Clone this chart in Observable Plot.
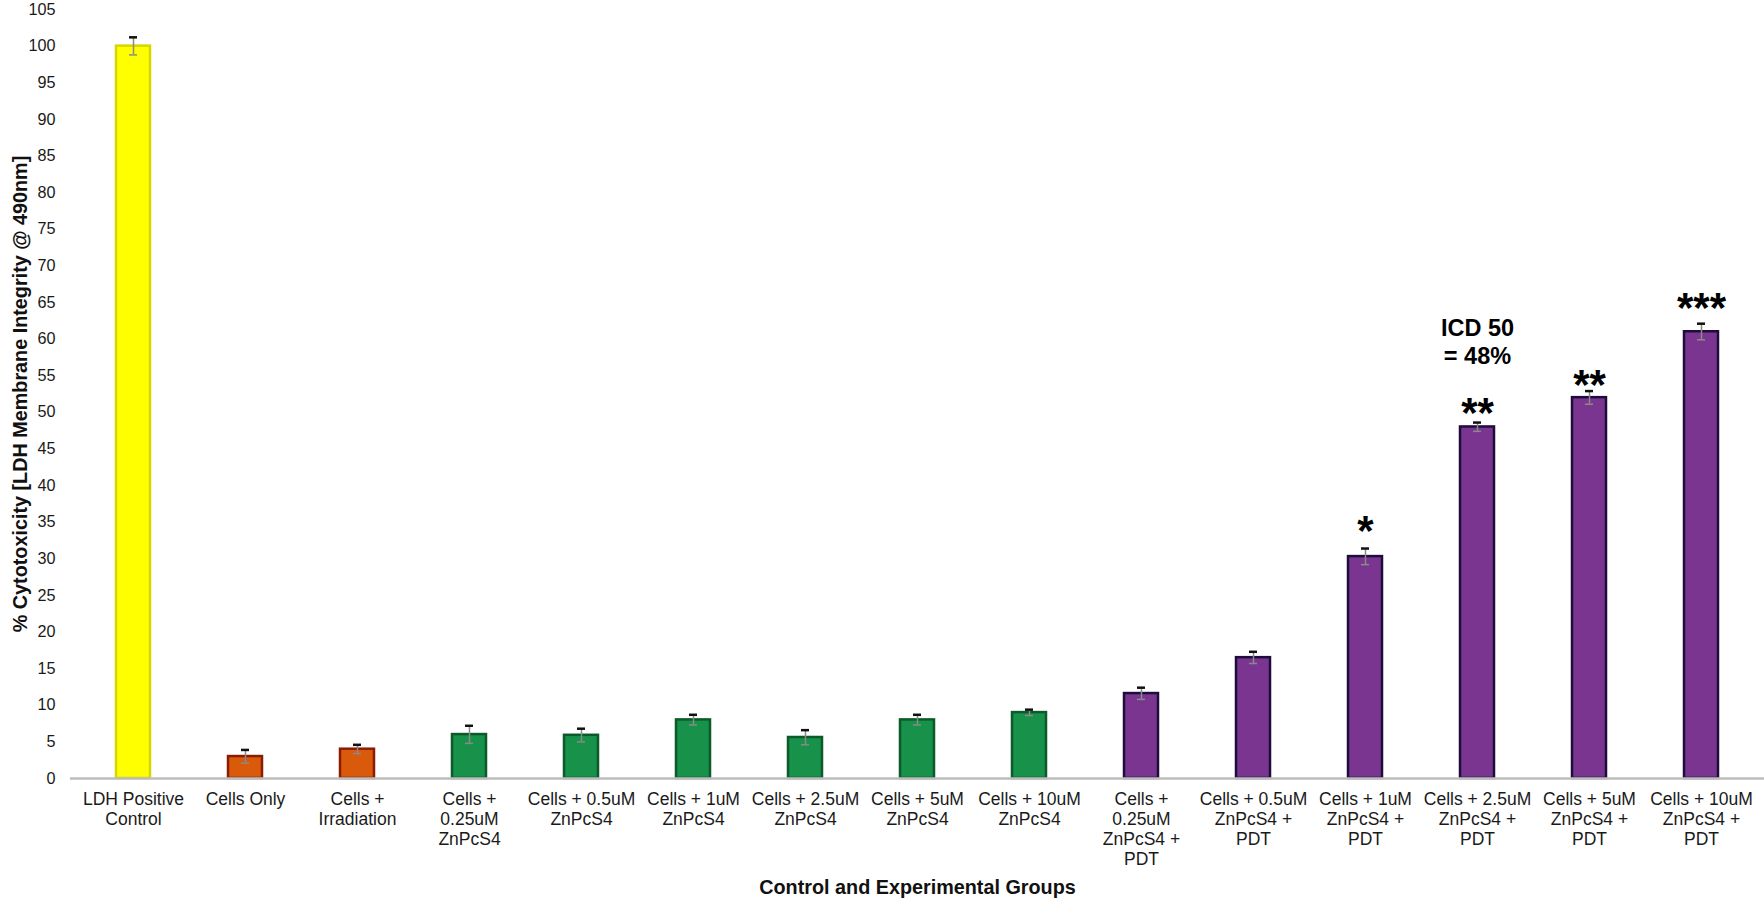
<!DOCTYPE html>
<html>
<head>
<meta charset="utf-8">
<script src="https://cdn.jsdelivr.net/npm/d3@7"></script>
<script src="https://cdn.jsdelivr.net/npm/@observablehq/plot@0.6"></script>
<style>
  html, body { margin: 0; padding: 0; background: #fff; }
  #chart svg { display: block; font-family: "Liberation Sans", Arial, sans-serif; }
  g[aria-label="y-axis label"] text, g[aria-label="x-axis label"] text { font-weight: bold; font-size: 19.8px; fill: #111; }
  g[aria-label="y-axis tick label"] text, g[aria-label="x-axis tick label"] text { fill: #1a1a1a; }
</style>
</head>
<body>
<div id="chart"></div>
<script>
// ---- Data ----
const categories = [
  "LDH Positive\nControl",
  "Cells Only",
  "Cells +\nIrradiation",
  "Cells +\n0.25uM\nZnPcS4",
  "Cells + 0.5uM\nZnPcS4",
  "Cells + 1uM\nZnPcS4",
  "Cells + 2.5uM\nZnPcS4",
  "Cells + 5uM\nZnPcS4",
  "Cells + 10uM\nZnPcS4",
  "Cells +\n0.25uM\nZnPcS4 +\nPDT",
  "Cells + 0.5uM\nZnPcS4 +\nPDT",
  "Cells + 1uM\nZnPcS4 +\nPDT",
  "Cells + 2.5uM\nZnPcS4 +\nPDT",
  "Cells + 5uM\nZnPcS4 +\nPDT",
  "Cells + 10uM\nZnPcS4 +\nPDT"
];
const groups = ["positive", "control", "control", "drug", "drug", "drug", "drug", "drug", "drug",
                "pdt", "pdt", "pdt", "pdt", "pdt", "pdt"];
const values = [100, 3, 4, 6, 5.9, 8, 5.6, 8, 9, 11.6, 16.5, 30.3, 48, 52, 61];
const errors = [1.2, 0.9, 0.6, 1.2, 0.9, 0.7, 1.0, 0.7, 0.4, 0.8, 0.8, 1.1, 0.6, 0.9, 1.1];
const yTicks = [0, 5, 10, 15, 20, 25, 30, 35, 40, 45, 50, 55, 60, 65, 70, 75, 80, 85, 90, 95, 100, 105];

// annotations (category index, y value, text)
const annCats = [11, 12, 13, 14, 12, 12];
const annY = [35.2, 51.4, 55.1, 65.7, 61.5, 57.6];
const annText = ["*", "**", "**", "***", "ICD 50", "= 48%"];

// ---- Build ----
const rows = categories.map((c, i) => ({cat: c, group: groups[i], v: values[i], e: errors[i]}));
const anns = annText.map((t, i) => ({cat: categories[annCats[i]], y: annY[i], t}));
const stars = anns.filter(d => d.t.startsWith("*"));
const words = anns.filter(d => !d.t.startsWith("*"));

const fillOf = {positive: "#ffff00", control: "#d95a0b", drug: "#18914a", pdt: "#7a3591"};
const strokeOf = {positive: "#d6d600", control: "#8a1c05", drug: "#0b5a2a", pdt: "#1d0c3c"};

const chart = Plot.plot({
  width: 1764,
  height: 899,
  marginTop: 9,
  marginBottom: 121,
  marginLeft: 70,
  marginRight: 0,
  style: {fontFamily: "Liberation Sans, Arial, sans-serif", fontSize: "16px", background: "#fff"},
  x: {domain: categories, paddingInner: 0.68, paddingOuter: 0.34},
  y: {domain: [0, 105]},
  marks: [
    Plot.axisY({ticks: yTicks, tickSize: 0, tickPadding: 15, fontSize: 16.2,
      label: "% Cytotoxicity [LDH Membrane Integrity @ 490nm]", labelAnchor: "center",
      labelArrow: "none", labelOffset: 58}),
    Plot.axisX({tickSize: 0, tickPadding: 12, fontSize: 17.5, lineHeight: 1.14,
      label: "Control and Experimental Groups", labelAnchor: "center", labelArrow: "none", labelOffset: 115}),
    Plot.barY(rows, {x: "cat", y: "v", fill: d => fillOf[d.group], stroke: d => strokeOf[d.group],
      strokeWidth: 2.5, insetLeft: 1, insetRight: 1}),
    Plot.ruleY([0], {stroke: "#bdbdbd", strokeWidth: 2.5}),
    Plot.ruleX(rows, {x: "cat", y1: d => d.v - d.e, y2: d => d.v + d.e, stroke: "#8a8a8a", strokeWidth: 1.5}),
    Plot.tickY(rows, {x: "cat", y: d => d.v - d.e, stroke: "#8a8a8a", strokeWidth: 1.5, insetLeft: 14, insetRight: 14}),
    Plot.tickY(rows, {x: "cat", y: d => d.v + d.e, stroke: "#111", strokeWidth: 2.5, insetLeft: 14, insetRight: 14}),
    Plot.text(stars, {x: "cat", y: "y", text: "t", fontSize: 42, fontWeight: "bold", fill: "#000", dy: 11}),
    Plot.text(words, {x: "cat", y: "y", text: "t", fontSize: 23.5, fontWeight: "bold", fill: "#000"})
  ]
});
document.getElementById("chart").appendChild(chart);
</script>
</body>
</html>
